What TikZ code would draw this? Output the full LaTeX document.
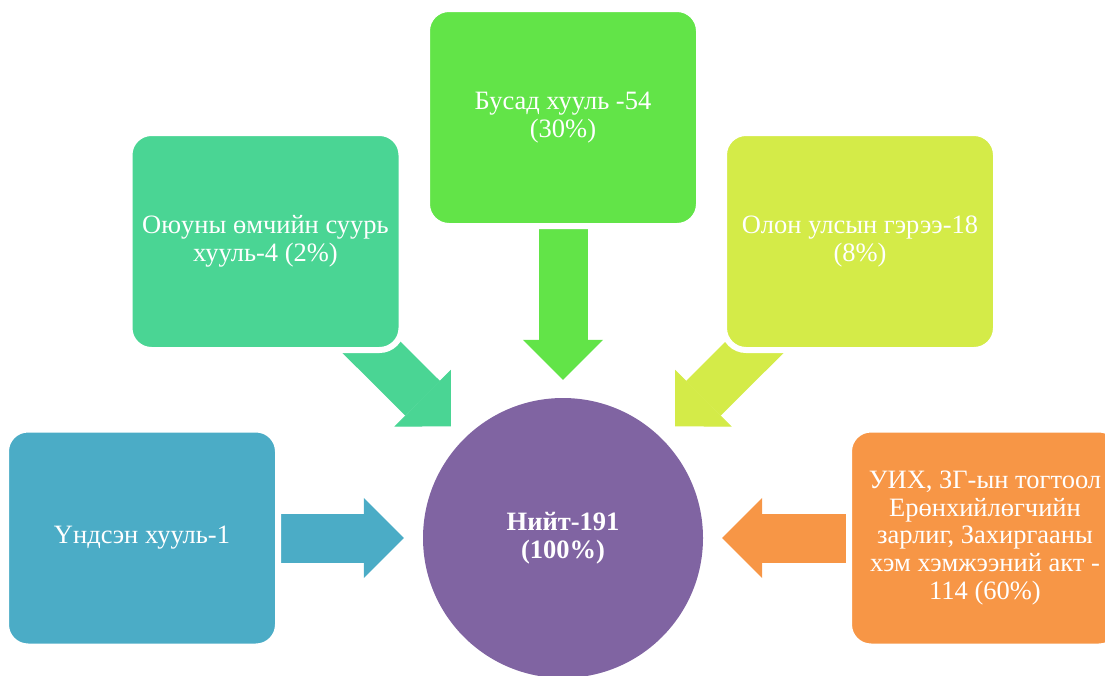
\documentclass[tikz,border=0pt]{standalone}
\usepackage{fontspec}
\setmainfont{Liberation Serif}
\usetikzlibrary{arrows.meta,backgrounds}

\definecolor{blueC}{HTML}{4BACC6}
\definecolor{tealC}{HTML}{4AD594}
\definecolor{greenC}{HTML}{62E448}
\definecolor{yellowC}{HTML}{D4EB48}
\definecolor{orangeC}{HTML}{F79646}
\definecolor{purpleC}{HTML}{8064A2}

\begin{document}
\begin{tikzpicture}[
  x=1pt, y=-1pt,
  box/.style={draw=white,line width=6pt,rounded corners=22pt,minimum width=272pt,minimum height=217pt,
    inner sep=0pt,align=center,text=white,font=\fontsize{26.5}{27.6}\selectfont},
  total/.style={circle,fill=purpleC,minimum size=280pt,inner sep=0pt,align=center,text=white,
    font=\fontsize{26.5}{27.6}\selectfont\bfseries},
  arr/.style={line width=49pt,-{Triangle[width=80pt,length=40pt,line width=1pt]}}
]
\useasboundingbox (0,0) rectangle (1105,675);

\node[total] (total) at (563,538) {Нийт-191\\(100\%)};

\node[box,fill=blueC] (undsen) at (142,538) {Үндсэн хууль-1};
\node[box,fill=tealC] (oyun) at (265.5,241.5) {Оюуны өмчийн суурь\\хууль-4 (2\%)};
\node[box,fill=greenC] (busad) at (563,117.5) {Бусад хууль -54\\(30\%)};
\node[box,fill=yellowC] (olon) at (860,241.5) {Олон улсын гэрээ-18\\(8\%)};
\node[box,fill=orangeC] (uikh) at (985,538) {УИХ, ЗГ-ын тогтоол\\Ерөнхийлөгчийн\\зарлиг, Захиргааны\\хэм хэмжээний акт -\\114 (60\%)};

% diagonal arrows start under the boxes
\coordinate (oyunTail) at (341,317);
\coordinate (olonTail) at (785,317);

\begin{scope}[on background layer]
\draw[arr,blueC,shorten >=19pt] (undsen) -- (total);
\draw[arr,tealC,shorten >=18pt] (oyunTail) -- (total);
\draw[arr,greenC,shorten >=18pt] (busad) -- (total);
\draw[arr,yellowC,shorten >=18pt] (olonTail) -- (total);
\draw[arr,orangeC,shorten >=19pt] (uikh) -- (total);
\end{scope}
\end{tikzpicture}
\end{document}
